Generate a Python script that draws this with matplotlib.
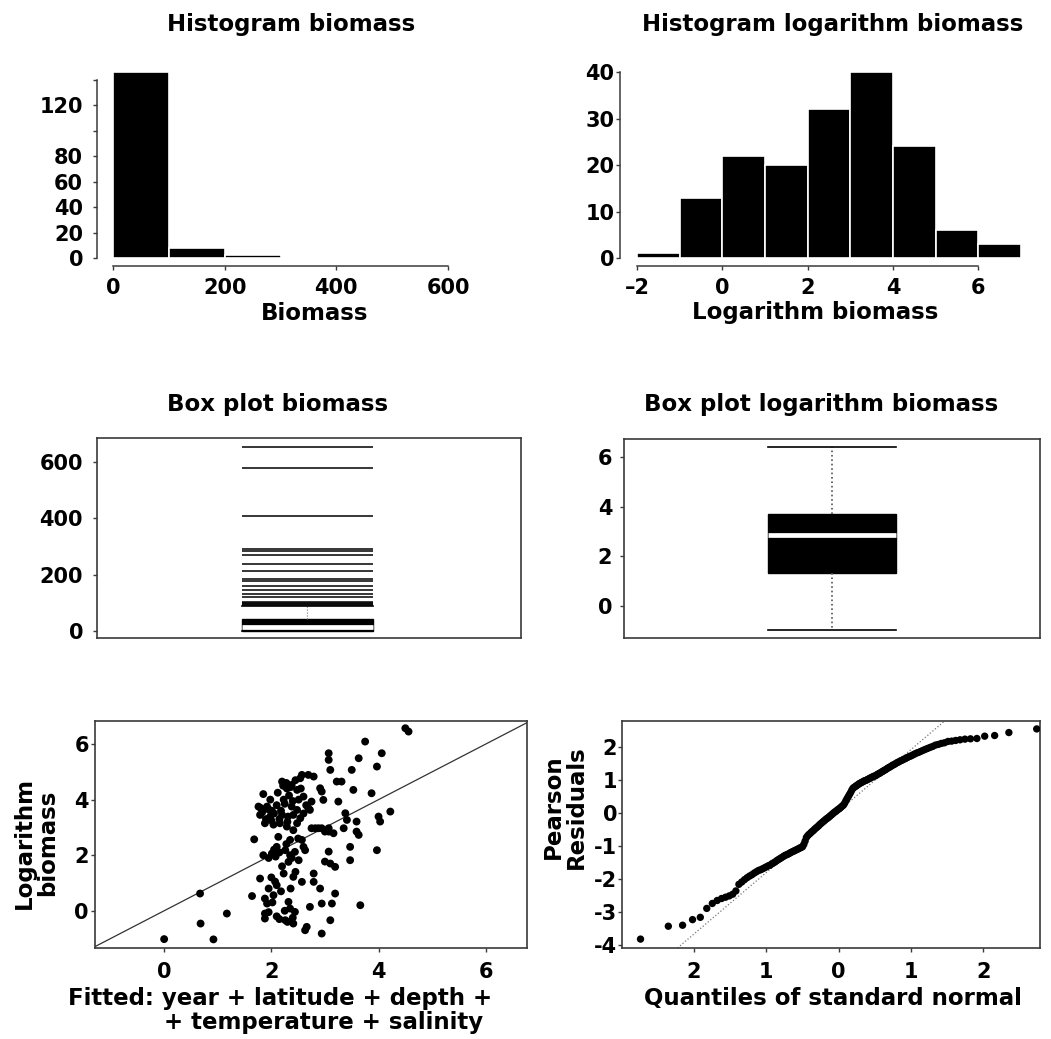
import statistics
import matplotlib
matplotlib.use("Agg")
import matplotlib.pyplot as plt

plt.rcParams['font.family'] = ['DejaVu Sans']
plt.rcParams['font.weight'] = 'bold'

W, H = 1051, 1039

# histogram of biomass
bio_edges = [0, 100, 200, 300]
bio_counts = [146, 8, 2]

# histogram of log biomass
log_edges = [-2, -1, 0, 1, 2, 3, 4, 5, 6, 7]
log_counts = [1, 13, 22, 20, 32, 40, 24, 6, 3]

# box plot summaries
bio_box = dict(whislo=0, q1=1, med=15, q3=41, whishi=88, fliers=[])
bio_outliers = [92, 96, 100, 104, 120, 131, 146, 160, 178, 183, 214, 237,
                270, 284, 290, 407, 579, 654]
log_box = dict(whislo=-0.97, q1=1.34, med=2.86, q3=3.71, whishi=6.42, fliers=[])

# fitted vs observed log biomass
fit_x = [0.00, 0.67, 0.68, 0.92, 1.17, 1.64, 1.68, 1.79,
         1.76, 1.79, 1.85, 1.88, 1.85, 1.88, 1.88, 1.88, 1.92, 1.95,
         1.92, 1.98, 1.98, 2.01, 2.01, 2.04, 2.04, 2.07, 2.10, 2.10,
         2.10, 2.13, 2.16, 2.20, 2.20, 2.23, 2.23, 2.26, 2.26, 2.29,
         2.29, 2.31, 2.32, 2.32, 2.35, 2.35, 2.38, 2.38, 2.41, 2.41,
         2.41, 2.41, 2.44, 2.44, 2.48, 2.48, 2.48, 2.51, 2.51, 2.54,
         2.54, 2.57, 2.57, 2.57, 2.60, 2.60, 2.63, 2.63, 2.66, 2.69,
         2.69, 2.72, 2.72, 2.75, 2.75, 2.79, 2.79, 2.79, 2.82, 2.88,
         2.91, 2.91, 2.94, 2.94, 2.94, 2.94, 2.97, 3.00, 3.00, 3.07,
         3.07, 3.07, 3.07, 3.07, 3.10, 3.10, 3.10, 3.13, 3.16, 3.19,
         3.19, 3.22, 3.25, 3.31, 3.35, 3.38, 3.41, 3.47, 3.47, 3.50,
         3.53, 3.59, 3.59, 3.63, 3.63, 3.66, 3.75, 3.87, 3.97, 3.97,
         4.00, 4.03, 4.06, 4.22, 4.50, 4.56,
         1.80, 1.83, 1.90, 1.95, 2.00, 2.05, 2.10, 2.12, 2.15, 2.18,
         2.22, 2.25, 2.28, 2.30, 2.33, 2.36, 2.40, 2.45, 2.05, 2.15,
         2.20, 2.28, 2.35, 2.02, 1.95, 2.15, 2.30, 2.18, 2.36, 2.45,
         2.38, 2.50, 2.55, 2.60, 2.65, 1.95, 2.08, 2.00, 2.25, 2.40]
fit_y = [-1.02, 0.62, -0.46, -1.03, -0.10, 0.53, 2.57, 1.16,
         3.75, 3.45, 4.20, 3.15, 2.00, 0.44, -0.10, -0.28, 0.26, 0.80,
         3.75, 3.40, 4.00, 2.06, 3.60, 3.10, 0.56, 1.05, 2.30, -0.20,
         0.92, 2.66, 3.15, 4.65, 3.45, 4.00, 1.34, 2.18, -0.34, 4.40,
         3.03, 3.39, 0.32, 1.76, 2.55, 0.08, 3.75, 4.53, 3.45, 2.90,
         1.22, -0.46, 2.12, -0.04, 4.35, 3.63, 3.15, 1.82, 4.00, 4.77,
         3.33, 4.89, 2.55, 1.04, 4.11, 2.30, 2.18, -0.70, -0.58, 4.89,
         3.69, 3.63, 0.14, 3.93, 2.97, 4.83, 1.34, 1.04, 2.97, 2.97,
         4.41, 0.80, 4.29, 2.97, 0.26, -0.82, 3.99, 1.77, 2.85, 5.67,
         5.43, 2.97, 2.85, 2.13, 5.07, 1.70, -0.34, 0.26, 2.79, 1.58,
         0.62, 4.65, 3.93, 4.65, 2.97, 3.51, 3.27, 1.82, 2.30, 5.07,
         4.35, 3.21, 2.85, 2.73, 5.49, 0.20, 6.09, 4.23, 2.18, 5.19,
         3.39, 3.21, 5.67, 3.57, 6.57, 6.45,
         3.70, 3.55, 3.30, 3.65, 3.25, 3.50, 3.80, 4.25, 3.30, 3.60,
         4.50, 3.85, 4.60, 3.20, 4.15, 4.45, 3.95, 4.70, 2.20, 2.10,
         1.60, 2.40, 2.00, 0.30, -0.05, -0.30, -0.40, 0.70, 0.80, 1.40,
         1.90, 2.60, 4.40, 3.50, 3.80, 1.90, 1.95, 1.20, 0.00, -0.25]

# sorted Pearson residuals (qq plot)
qq_resid = [-3.82, -3.43, -3.40, -3.23, -3.16, -2.89, -2.74, -2.65, -2.59, -2.55,
            -2.51, -2.46, -2.36, -2.16, -2.09, -2.02, -1.96, -1.91, -1.87, -1.82,
            -1.78, -1.74, -1.72, -1.69, -1.66, -1.63, -1.60, -1.58, -1.54, -1.51,
            -1.48, -1.44, -1.41, -1.38, -1.35, -1.32, -1.29, -1.27, -1.25, -1.23,
            -1.20, -1.18, -1.16, -1.14, -1.12, -1.10, -1.08, -1.06, -1.04, -1.02,
            -0.95, -0.85, -0.74, -0.69, -0.65, -0.62, -0.58, -0.55, -0.52, -0.48,
            -0.45, -0.42, -0.39, -0.35, -0.32, -0.29, -0.26, -0.23, -0.20, -0.17,
            -0.15, -0.12, -0.09, -0.06, -0.03, 0.00, 0.03, 0.05, 0.08, 0.11,
            0.13, 0.16, 0.19, 0.22, 0.25, 0.31, 0.38, 0.44, 0.50, 0.56,
            0.62, 0.69, 0.75, 0.78, 0.80, 0.83, 0.85, 0.88, 0.90, 0.92,
            0.94, 0.96, 0.98, 0.99, 1.01, 1.03, 1.05, 1.07, 1.09, 1.11,
            1.12, 1.14, 1.17, 1.19, 1.21, 1.24, 1.26, 1.29, 1.31, 1.34,
            1.37, 1.39, 1.42, 1.45, 1.47, 1.50, 1.53, 1.55, 1.58, 1.60,
            1.63, 1.65, 1.68, 1.71, 1.73, 1.76, 1.79, 1.82, 1.84, 1.87,
            1.90, 1.93, 1.96, 1.99, 2.02, 2.06, 2.08, 2.11, 2.13, 2.17,
            2.18, 2.20, 2.22, 2.24, 2.25, 2.26, 2.33, 2.35, 2.44, 2.55]
qq_line = (0.06, 1.866)  # intercept, slope

FS = 15       # tick labels
LFS = 16.5    # titles and axis labels
FRAME = '#3a3a3a'


def rect(l, t, r, b):
    return [l / W, 1 - b / H, (r - l) / W, (b - t) / H]


def style_ticks(ax, xpad, ypad):
    ax.tick_params(axis='both', labelsize=FS, colors=FRAME, labelcolor='black',
                   length=3, width=1)
    ax.tick_params(axis='x', pad=xpad)
    ax.tick_params(axis='y', pad=ypad)
    for lab in ax.get_xticklabels() + ax.get_yticklabels():
        lab.set_fontweight('bold')


def hist_axes(ax, left_off, xb, yb):
    for s in ['top', 'right']:
        ax.spines[s].set_visible(False)
    ax.spines['left'].set_position(('outward', left_off))
    ax.spines['bottom'].set_position(('outward', 5.8))
    ax.spines['left'].set_bounds(*yb)
    ax.spines['bottom'].set_bounds(*xb)
    for s in ['left', 'bottom']:
        ax.spines[s].set_color(FRAME)
        ax.spines[s].set_linewidth(1.1)


def frame_axes(ax):
    for s in ax.spines.values():
        s.set_color(FRAME)
        s.set_linewidth(1.2)


fig = plt.figure(figsize=(W / 100, H / 100), dpi=100)

# --- histogram biomass
ax1 = fig.add_axes(rect(113, 66, 448, 258))
ax1.bar(bio_edges[:-1], bio_counts, width=[b - a for a, b in zip(bio_edges[:-1], bio_edges[1:])],
        align='edge', color='black', edgecolor='white', linewidth=1.2)
ax1.set_xlim(0, 600)
ax1.set_ylim(0, 150.6)
ax1.set_xticks([0, 200, 400, 600])
ax1.set_yticks([0, 20, 40, 60, 80, 100, 120, 140])
ax1.set_yticklabels(['0', '20', '40', '60', '80', '', '120', ''])
hist_axes(ax1, 11.5, (0, 600), (0, 140))
style_ticks(ax1, 5.5, 7)

# --- histogram log biomass
ax2 = fig.add_axes(rect(637, 66, 1021, 258))
ax2.bar(log_edges[:-1], log_counts, width=1, align='edge', color='black',
        edgecolor='white', linewidth=1.2)
ax2.set_xlim(-2, 7)
ax2.set_ylim(0, 41.3)
ax2.set_xticks([-2, 0, 2, 4, 6])
ax2.set_xticklabels(['\u20132', '0', '2', '4', '6'])
ax2.set_yticks([0, 10, 20, 30, 40])
hist_axes(ax2, 12.2, (-2, 6), (0, 40))
style_ticks(ax2, 5.5, 1)

# --- box plot biomass
ax3 = fig.add_axes(rect(97, 438, 521, 638))
bw = 0.31
ax3.bxp([bio_box], positions=[0.496], widths=bw, capwidths=bw, patch_artist=True,
        showfliers=False,
        boxprops=dict(facecolor='black', edgecolor='black', linewidth=1),
        medianprops=dict(color='white', linewidth=3.4, solid_capstyle='butt'),
        whiskerprops=dict(color='#777777', linestyle=':', linewidth=0.8),
        capprops=dict(color='black', linewidth=1.2))
ax3.hlines(bio_outliers, 0.496 - bw / 2, 0.496 + bw / 2, colors='black', linewidth=1.1)
ax3.set_xlim(0, 1)
ax3.set_ylim(-25, 685)
ax3.set_xticks([])
ax3.set_yticks([0, 200, 400, 600])
frame_axes(ax3)
style_ticks(ax3, 3, 7)

# --- box plot log biomass
ax4 = fig.add_axes(rect(624, 439, 1040, 638))
ax4.bxp([log_box], positions=[0.5], widths=bw, capwidths=bw, patch_artist=True,
        showfliers=False,
        boxprops=dict(facecolor='black', edgecolor='black', linewidth=1),
        medianprops=dict(color='white', linewidth=3.4, solid_capstyle='butt'),
        whiskerprops=dict(color='#555555', linestyle=':', linewidth=1.2),
        capprops=dict(color='black', linewidth=1.2))
ax4.set_xlim(0, 1)
ax4.set_ylim(-1.29, 6.74)
ax4.set_xticks([])
ax4.set_yticks([0, 2, 4, 6])
frame_axes(ax4)
style_ticks(ax4, 3, 5.5)

# --- fitted vs observed
ax5 = fig.add_axes(rect(95, 721, 527, 948))
ax5.scatter(fit_x, fit_y, s=32, color='black', edgecolors='none', zorder=3)
ax5.axline((0, 0), slope=1, color='#333333', linewidth=0.9)
ax5.set_xlim(-1.29, 6.77)
ax5.set_ylim(-1.34, 6.83)
ax5.set_xticks([0, 2, 4, 6])
ax5.set_yticks([0, 2, 4, 6])
frame_axes(ax5)
style_ticks(ax5, 7, 1.5)

# --- qq plot of residuals
n = len(qq_resid)
qq_x = [statistics.NormalDist().inv_cdf((i - 0.5) / n) for i in range(1, n + 1)]
ax6 = fig.add_axes(rect(622, 721, 1040, 948))
ax6.axline((0, qq_line[0]), slope=qq_line[1], color='#777777', linestyle=':', linewidth=0.9)
ax6.scatter(qq_x, qq_resid, s=28, color='black', edgecolors='none', zorder=3)
ax6.set_xlim(-2.99, 2.78)
ax6.set_ylim(-4.09, 2.79)
ax6.set_xticks([-2, -1, 0, 1, 2])
ax6.set_xticklabels(['2', '1', '0', '1', '2'])
ax6.set_yticks([2, 1, 0, -1, -2, -3, -4])
ax6.set_yticklabels(['2', '1', '0', '-1', '-2', '-3', '-4'])
frame_axes(ax6)
style_ticks(ax6, 7, 0.5)


# --- titles and labels
def ftext(x, y, s, **kw):
    fig.text(x / W, 1 - y / H, s, ha='center', va='center', fontsize=LFS,
             fontweight='bold', **kw)


ftext(291, 25, 'Histogram biomass')
ftext(833, 25, 'Histogram logarithm biomass')
ftext(315, 313, 'Biomass')
ftext(815, 313, 'Logarithm biomass')
ftext(278, 405, 'Box plot biomass')
ftext(821, 405, 'Box plot logarithm biomass')
ftext(36, 843, 'Logarithm\nbiomass', rotation=90, linespacing=1.05)
ftext(565, 807, 'Pearson\nResiduals', rotation=90, linespacing=1.0)
ftext(280, 998, 'Fitted: year + latitude + depth +')
ftext(324, 1022, '+ temperature + salinity')
ftext(833, 998, 'Quantiles of standard normal')

fig.savefig('out.png', dpi=100, facecolor='white')
